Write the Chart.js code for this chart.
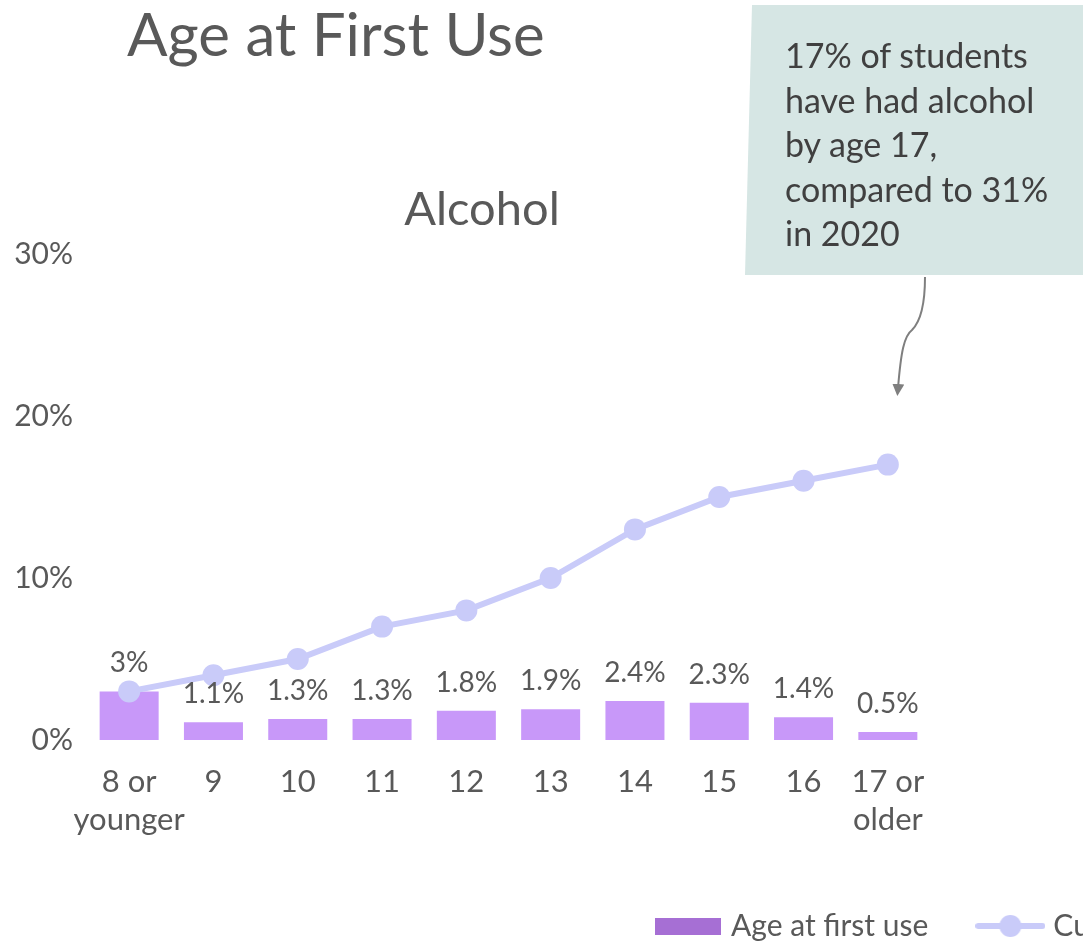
<!DOCTYPE html>
<html>
<head>
<meta charset="utf-8">
<script src="https://cdn.jsdelivr.net/npm/chart.js@4"></script>
<style>
  html, body { margin: 0; padding: 0; background: #fff; }
  #wrap { position: relative; width: 1083px; height: 942px; overflow: hidden; font-family: Lato, "Open Sans", sans-serif; }
  #chart { position: absolute; left: 0; top: 0; }
  #title { position: absolute; left: 127px; top: -3px; font-size: 60px; color: #595959; white-space: nowrap; }
  #sub { position: absolute; left: 0; width: 964px; top: 179px; text-align: center; font-size: 47px; color: #595959; }
  #note { position: absolute; left: 785px; top: 33px; font-size: 34px; line-height: 44.5px; color: #404040; white-space: nowrap; }
  #deco { position: absolute; left: 0; top: 0; }
</style>
</head>
<body>
<div id="wrap">
  <svg id="deco" width="1083" height="942">
    <defs>
      <marker id="head" markerWidth="12" markerHeight="12" refX="4" refY="6" orient="auto" markerUnits="userSpaceOnUse">
        <path d="M0,0 L12,6 L0,12 z" fill="#7f7f7f"/>
      </marker>
    </defs>
    <polygon points="752,5 1083,5 1083,275 745,275" fill="#d6e6e4"/>
    <path d="M925,277 C925,300 922,320 912,330 C904,336 901,352 898,388" fill="none" stroke="#7f7f7f" stroke-width="2" marker-end="url(#head)"/>
  </svg>
  <canvas id="chart" width="1083" height="942"></canvas>
  <div id="title">Age at First Use</div>
  <div id="sub">Alcohol</div>
  <div id="note">17% of students<br>have had alcohol<br>by age 17,<br>compared to 31%<br>in 2020</div>
</div>
<script>
// data
const ageLabels = [['8 or', 'younger'], '9', '10', '11', '12', '13', '14', '15', '16', ['17 or', 'older']];
const firstUsePct = [3, 1.1, 1.3, 1.3, 1.8, 1.9, 2.4, 2.3, 1.4, 0.5];
const cumulativePct = [3, 4, 5, 7, 8, 10, 13, 15, 16, 17];
const yTicks = [0, 10, 20, 30];
const seriesNames = ['Age at first use', 'Cumulative'];

const barColor = '#c898f9';
const legendBarColor = '#a66fd4';
const lineColor = '#c9cbf9';
const textColor = '#595959';
const fontFamily = 'Lato, "Open Sans", sans-serif';

// legend icons
function makeIcon(w, h, draw) {
    const c = document.createElement('canvas');
    c.width = w; c.height = h;
    draw(c.getContext('2d'));
    return c;
}
const barIcon = makeIcon(66, 17, (ctx) => {
    ctx.fillStyle = legendBarColor;
    ctx.fillRect(0, 0, 66, 17);
});
const lineIcon = makeIcon(70, 24, (ctx) => {
    ctx.strokeStyle = lineColor;
    ctx.lineWidth = 6;
    ctx.lineCap = 'round';
    ctx.beginPath(); ctx.moveTo(3, 12); ctx.lineTo(67, 12); ctx.stroke();
    ctx.fillStyle = lineColor;
    ctx.beginPath(); ctx.arc(35, 12, 11, 0, Math.PI * 2); ctx.fill();
});

// value labels above the bars
const barLabels = {
    id: 'barLabels',
    afterDatasetsDraw(chart) {
        const meta = chart.getDatasetMeta(0);
        const ctx = chart.ctx;
        ctx.save();
        ctx.font = '28px ' + fontFamily;
        ctx.fillStyle = textColor;
        ctx.textAlign = 'center';
        ctx.textBaseline = 'middle';
        meta.data.forEach((bar, i) => {
            ctx.fillText(firstUsePct[i] + '%', bar.x, bar.y - 28);
        });
        ctx.restore();
    }
};

// legend sits lower right and runs off the edge
const legendShift = {
    id: 'legendShift',
    beforeDraw(chart) {
        const lg = chart.legend;
        lg.left = 606;
        lg.right = 5000;
        lg.top = chart.height - lg.height + 9;
    }
};

const ctx = document.getElementById('chart').getContext('2d');
new Chart(ctx, {
    data: {
        labels: ageLabels,
        datasets: [{
            type: 'bar',
            label: seriesNames[0],
            data: firstUsePct,
            backgroundColor: barColor,
            categoryPercentage: 1,
            barPercentage: 0.7,
            order: 1
        }, {
            type: 'line',
            label: seriesNames[1],
            data: cumulativePct,
            borderColor: lineColor,
            backgroundColor: lineColor,
            borderWidth: 6,
            pointRadius: 11,
            pointHoverRadius: 11,
            pointBackgroundColor: lineColor,
            pointBorderWidth: 0,
            order: 0
        }]
    },
    options: {
        responsive: false,
        animation: false,
        devicePixelRatio: 1,
        layout: {
            padding: { top: 254, right: 153, bottom: 0, left: 0 }
        },
        plugins: {
            tooltip: { enabled: false },
            legend: {
                position: 'bottom',
                align: 'start',
                labels: {
                    usePointStyle: true,
                    pointStyleWidth: 56,
                    padding: 54,
                    color: textColor,
                    font: { family: fontFamily, size: 30 },
                    sort: (a, b) => a.datasetIndex - b.datasetIndex,
                    generateLabels: (chart) => {
                        const items = Chart.defaults.plugins.legend.labels.generateLabels(chart);
                        items.forEach(item => {
                            item.pointStyle = item.datasetIndex === 0 ? barIcon : lineIcon;
                        });
                        return items;
                    }
                }
            }
        },
        scales: {
            x: {
                grid: { display: false },
                border: { display: false },
                ticks: {
                    color: textColor,
                    font: { family: fontFamily, size: 31, lineHeight: 1.23 },
                    padding: 15,
                    maxRotation: 0,
                    autoSkip: false
                },
                afterFit: (scale) => { scale.height = 108; }
            },
            y: {
                min: 0,
                max: 30,
                grid: { display: false },
                border: { display: false },
                afterBuildTicks: (scale) => { scale.ticks = yTicks.map(v => ({ value: v })); },
                ticks: {
                    color: textColor,
                    font: { family: fontFamily, size: 30 },
                    padding: 6,
                    callback: (v) => v + '%'
                },
                afterFit: (scale) => { scale.width = 87; }
            }
        }
    },
    plugins: [barLabels, legendShift]
});
</script>
</body>
</html>
